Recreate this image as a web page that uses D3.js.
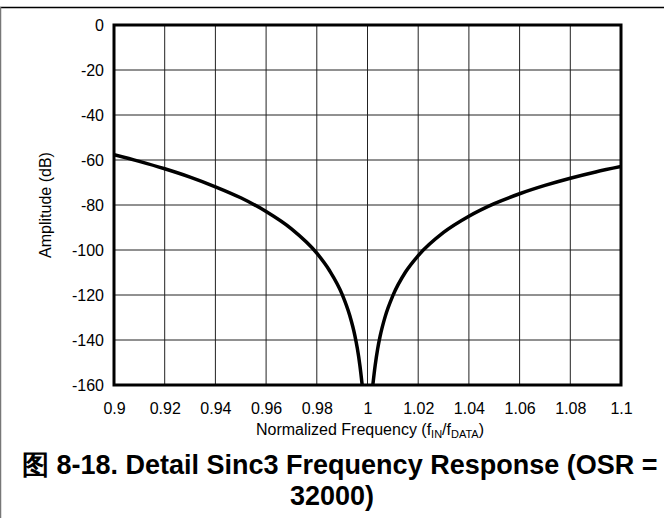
<!DOCTYPE html>
<html><head><meta charset="utf-8">
<script src="https://cdn.jsdelivr.net/npm/d3@7"></script>
<style>body{margin:0;background:#fff}svg{display:block}</style>
</head><body>
<script>
const xTicks = [0.9,0.92,0.94,0.96,0.98,1,1.02,1.04,1.06,1.08,1.1];
const xTickLabels = ["0.9","0.92","0.94","0.96","0.98","1","1.02","1.04","1.06","1.08","1.1"];
const yTicks = [0,-20,-40,-60,-80,-100,-120,-140,-160];
const yTickLabels = ["0","-20","-40","-60","-80","-100","-120","-140","-160"];
const freqLeft = [0.9,0.91,0.92,0.93,0.94,0.95,0.96,0.97,0.98,0.985,0.99,0.993,0.995,0.996,0.997,0.998];
const ampLeft  = [-57.6,-60.6,-63.9,-67.6,-71.9,-76.8,-82.9,-90.6,-101.4,-109.1,-119.7,-129.1,-137.9,-143.8,-151.3,-161];
const freqRight = [1.002,1.003,1.004,1.005,1.007,1.01,1.015,1.02,1.03,1.04,1.05,1.06,1.07,1.08,1.09,1.1];
const ampRight  = [-161,-151.5,-144.0,-138.2,-129.5,-120.3,-109.8,-102.5,-92.2,-85.0,-79.4,-75.0,-71.3,-68.1,-65.3,-62.9];

const W=664,H=518;
const FONT="Liberation Sans, Arial, Helvetica, sans-serif";
const svg=d3.select("body").append("svg").attr("width",W).attr("height",H);
const L=114,R=621,T=25,B=385;
const x=d3.scaleLinear().domain([0.9,1.1]).range([L,R]);
const y=d3.scaleLinear().domain([-160,0]).range([B,T]);

// outer frame
svg.append("line").attr("x1",0).attr("x2",W).attr("y1",7.5).attr("y2",7.5).attr("stroke","#000").attr("stroke-width",1.5);
svg.append("line").attr("x1",0.5).attr("x2",0.5).attr("y1",7).attr("y2",H).attr("stroke","#777").attr("stroke-width",1.5);

// grid
const g=svg.append("g");
g.selectAll(".vx").data(xTicks).join("line")
 .attr("x1",d=>x(d)).attr("x2",d=>x(d)).attr("y1",T).attr("y2",B)
 .attr("stroke","#222").attr("stroke-width",1);
g.selectAll(".hy").data(yTicks).join("line")
 .attr("x1",L).attr("x2",R).attr("y1",d=>y(d)).attr("y2",d=>y(d))
 .attr("stroke","#222").attr("stroke-width",1);

// axes labels via d3 axes (no lines)
const xa=svg.append("g").attr("transform",`translate(0,${B})`)
 .call(d3.axisBottom(x).tickValues(xTicks).tickFormat((d,i)=>xTickLabels[i]).tickSize(0));
xa.select(".domain").remove();
xa.selectAll("text").attr("font-family",FONT).attr("font-size",16).attr("fill","#000")
 .attr("dy",null).attr("y",29);
const ya=svg.append("g").attr("transform",`translate(${L},0)`)
 .call(d3.axisLeft(y).tickValues(yTicks).tickFormat((d,i)=>yTickLabels[i]).tickSize(0).tickPadding(10));
ya.select(".domain").remove();
ya.selectAll("text").attr("font-family",FONT).attr("font-size",16).attr("fill","#000");

// curve
svg.append("clipPath").attr("id","clip").append("rect").attr("x",L).attr("y",T).attr("width",R-L).attr("height",B-T);
const line=d3.line().x(d=>x(d[0])).y(d=>y(d[1])).curve(d3.curveMonotoneX);
const cg=svg.append("g").attr("clip-path","url(#clip)");
cg.append("path").datum(freqLeft.map((f,i)=>[f,ampLeft[i]])).attr("d",line)
 .attr("fill","none").attr("stroke","#000").attr("stroke-width",3.5);
cg.append("path").datum(freqRight.map((f,i)=>[f,ampRight[i]])).attr("d",line)
 .attr("fill","none").attr("stroke","#000").attr("stroke-width",3.5);

// plot frame
svg.append("rect").attr("x",L).attr("y",T).attr("width",R-L).attr("height",B-T)
 .attr("fill","none").attr("stroke","#000").attr("stroke-width",3);

// axis titles
const xt=svg.append("text").attr("x",370).attr("y",435).attr("text-anchor","middle")
 .attr("font-family",FONT).attr("font-size",16).attr("fill","#000");
xt.append("tspan").text("Normalized Frequency  (f");
xt.append("tspan").attr("font-size",11).attr("dy",3).text("IN");
xt.append("tspan").attr("dy",-3).text("/f");
xt.append("tspan").attr("font-size",11).attr("dy",3).text("DATA");
xt.append("tspan").attr("dy",-3).text(")");

svg.append("text").attr("transform",`translate(51,${(T+B)/2}) rotate(-90)`).attr("text-anchor","middle")
 .attr("font-family",FONT).attr("font-size",16).attr("fill","#000").text("Amplitude (dB)");

// caption
svg.append("text").attr("x",22).attr("y",474)
 .attr("font-family",FONT).attr("font-weight","bold").attr("font-size",27).attr("fill","#000")
 .text("图 8-18. Detail Sinc3 Frequency Response (OSR =");
svg.append("text").attr("x",332).attr("y",505).attr("text-anchor","middle")
 .attr("font-family",FONT).attr("font-weight","bold").attr("font-size",27).attr("fill","#000")
 .text("32000)");
</script>
</body></html>
